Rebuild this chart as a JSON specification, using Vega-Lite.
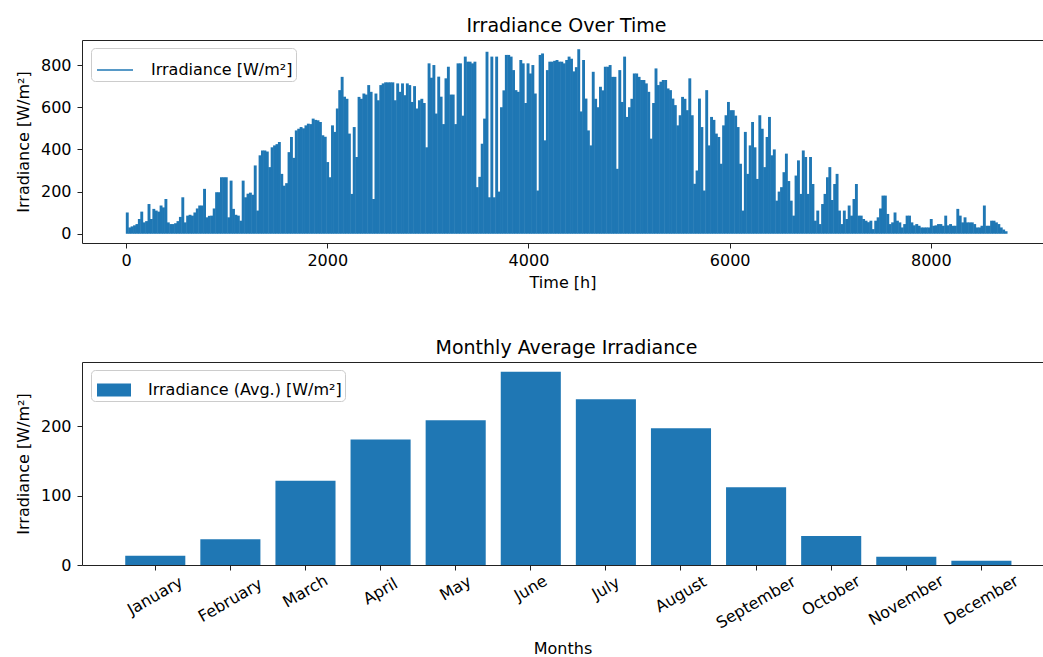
{
  "$schema": "https://vega.github.io/schema/vega-lite/v6.json",
  "padding": {"top": 17, "left": 14, "right": 0, "bottom": 0},
  "background": "white",
  "spacing": 49,
  "config": {
    "font": "DejaVu Sans",
    "view": {"stroke": null},
    "axis": {"domainColor": "#222", "domainWidth": 1, "tickColor": "#222", "tickSize": 5, "tickWidth": 1, "labelFontSize": 16, "labelColor": "#000", "titleFontSize": 16, "titleFontWeight": "normal", "titleColor": "#000", "grid": false, "labelFont": "DejaVu Sans", "titleFont": "DejaVu Sans"},
    "title": {"fontSize": 19, "fontWeight": "normal", "color": "#000", "font": "DejaVu Sans", "baseline": "alphabetic", "offset": 4, "frame": "group", "dx": 4},
    "legend": {"labelFontSize": 16, "labelFont": "DejaVu Sans", "labelColor": "#000", "strokeColor": "#cccccc", "fillColor": "#ffffff", "cornerRadius": 4, "padding": 3, "labelLimit": 400, "labelOffset": 17}
  },
  "datasets": {
    "hourly": [
      {"h":12,"v":101},{"h":36,"v":30},{"h":60,"v":35},{"h":84,"v":40},{"h":108,"v":46},{"h":132,"v":70},{"h":156,"v":105},{"h":180,"v":54},{"h":204,"v":60},{"h":228,"v":141},
      {"h":252,"v":70},{"h":276,"v":118},{"h":300,"v":110},{"h":324,"v":105},{"h":348,"v":134},{"h":372,"v":125},{"h":396,"v":165},{"h":420,"v":54},{"h":444,"v":46},{"h":468,"v":46},
      {"h":492,"v":50},{"h":516,"v":60},{"h":540,"v":80},{"h":564,"v":173},{"h":588,"v":54},{"h":612,"v":86},{"h":636,"v":90},{"h":660,"v":86},{"h":684,"v":101},{"h":708,"v":120},
      {"h":732,"v":134},{"h":756,"v":134},{"h":780,"v":213},{"h":804,"v":78},{"h":828,"v":85},{"h":852,"v":86},{"h":876,"v":120},{"h":900,"v":197},{"h":924,"v":197},{"h":948,"v":268},
      {"h":972,"v":268},{"h":996,"v":268},{"h":1020,"v":78},{"h":1044,"v":252},{"h":1068,"v":118},{"h":1092,"v":90},{"h":1116,"v":86},{"h":1140,"v":62},{"h":1164,"v":252},{"h":1188,"v":173},
      {"h":1212,"v":190},{"h":1236,"v":195},{"h":1260,"v":185},{"h":1284,"v":324},{"h":1308,"v":110},{"h":1332,"v":372},{"h":1356,"v":395},{"h":1380,"v":395},{"h":1404,"v":390},{"h":1428,"v":316},
      {"h":1452,"v":410},{"h":1476,"v":419},{"h":1500,"v":425},{"h":1524,"v":435},{"h":1548,"v":284},{"h":1572,"v":228},{"h":1596,"v":240},{"h":1620,"v":387},{"h":1644,"v":459},{"h":1668,"v":360},
      {"h":1692,"v":490},{"h":1716,"v":498},{"h":1740,"v":506},{"h":1764,"v":500},{"h":1788,"v":514},{"h":1812,"v":522},{"h":1836,"v":520},{"h":1860,"v":546},{"h":1884,"v":540},{"h":1908,"v":538},
      {"h":1932,"v":530},{"h":1956,"v":467},{"h":1980,"v":460},{"h":2004,"v":340},{"h":2028,"v":268},{"h":2052,"v":514},{"h":2076,"v":483},{"h":2100,"v":594},{"h":2124,"v":681},{"h":2148,"v":744},
      {"h":2172,"v":650},{"h":2196,"v":640},{"h":2220,"v":475},{"h":2244,"v":189},{"h":2268,"v":506},{"h":2292,"v":364},{"h":2316,"v":649},{"h":2340,"v":640},{"h":2364,"v":665},{"h":2388,"v":660},
      {"h":2412,"v":705},{"h":2436,"v":673},{"h":2460,"v":165},{"h":2484,"v":665},{"h":2508,"v":633},{"h":2532,"v":705},{"h":2556,"v":713},{"h":2580,"v":718},{"h":2604,"v":718},{"h":2628,"v":718},
      {"h":2652,"v":718},{"h":2676,"v":633},{"h":2700,"v":713},{"h":2724,"v":673},{"h":2748,"v":713},{"h":2772,"v":657},{"h":2796,"v":713},{"h":2820,"v":705},{"h":2844,"v":625},{"h":2868,"v":700},
      {"h":2892,"v":594},{"h":2916,"v":633},{"h":2940,"v":640},{"h":2964,"v":620},{"h":2988,"v":410},{"h":3012,"v":808},{"h":3036,"v":740},{"h":3060,"v":800},{"h":3084,"v":570},{"h":3108,"v":745},
      {"h":3132,"v":650},{"h":3156,"v":520},{"h":3180,"v":737},{"h":3204,"v":792},{"h":3228,"v":660},{"h":3252,"v":660},{"h":3276,"v":520},{"h":3300,"v":808},{"h":3324,"v":808},{"h":3348,"v":560},
      {"h":3372,"v":840},{"h":3396,"v":816},{"h":3420,"v":816},{"h":3444,"v":808},{"h":3468,"v":816},{"h":3492,"v":221},{"h":3516,"v":270},{"h":3540,"v":427},{"h":3564,"v":546},{"h":3588,"v":863},
      {"h":3612,"v":173},{"h":3636,"v":840},{"h":3660,"v":173},{"h":3684,"v":840},{"h":3708,"v":200},{"h":3732,"v":600},{"h":3756,"v":680},{"h":3780,"v":848},{"h":3804,"v":848},{"h":3828,"v":840},
      {"h":3852,"v":776},{"h":3876,"v":681},{"h":3900,"v":673},{"h":3924,"v":824},{"h":3948,"v":808},{"h":3972,"v":620},{"h":3996,"v":808},{"h":4020,"v":760},{"h":4044,"v":800},{"h":4068,"v":665},
      {"h":4092,"v":205},{"h":4116,"v":848},{"h":4140,"v":855},{"h":4164,"v":443},{"h":4188,"v":776},{"h":4212,"v":816},{"h":4236,"v":816},{"h":4260,"v":820},{"h":4284,"v":824},{"h":4308,"v":816},
      {"h":4332,"v":816},{"h":4356,"v":808},{"h":4380,"v":824},{"h":4404,"v":840},{"h":4428,"v":830},{"h":4452,"v":770},{"h":4476,"v":790},{"h":4500,"v":875},{"h":4524,"v":580},{"h":4548,"v":824},
      {"h":4572,"v":641},{"h":4596,"v":490},{"h":4620,"v":419},{"h":4644,"v":768},{"h":4668,"v":640},{"h":4692,"v":600},{"h":4716,"v":697},{"h":4740,"v":680},{"h":4764,"v":792},{"h":4788,"v":792},
      {"h":4812,"v":800},{"h":4836,"v":744},{"h":4860,"v":744},{"h":4884,"v":308},{"h":4908,"v":776},{"h":4932,"v":625},{"h":4956,"v":840},{"h":4980,"v":554},{"h":5004,"v":600},{"h":5028,"v":640},
      {"h":5052,"v":760},{"h":5076,"v":760},{"h":5100,"v":744},{"h":5124,"v":729},{"h":5148,"v":729},{"h":5172,"v":713},{"h":5196,"v":673},{"h":5220,"v":451},{"h":5244,"v":620},{"h":5268,"v":784},
      {"h":5292,"v":705},{"h":5316,"v":721},{"h":5340,"v":729},{"h":5364,"v":729},{"h":5388,"v":689},{"h":5412,"v":681},{"h":5436,"v":641},{"h":5460,"v":610},{"h":5484,"v":514},{"h":5508,"v":562},
      {"h":5532,"v":649},{"h":5556,"v":640},{"h":5580,"v":586},{"h":5604,"v":737},{"h":5628,"v":562},{"h":5652,"v":237},{"h":5676,"v":300},{"h":5700,"v":641},{"h":5724,"v":506},{"h":5748,"v":205},
      {"h":5772,"v":681},{"h":5796,"v":419},{"h":5820,"v":554},{"h":5844,"v":540},{"h":5868,"v":475},{"h":5892,"v":459},{"h":5916,"v":332},{"h":5940,"v":514},{"h":5964,"v":562},{"h":5988,"v":625},
      {"h":6012,"v":586},{"h":6036,"v":586},{"h":6060,"v":560},{"h":6084,"v":506},{"h":6108,"v":332},{"h":6132,"v":110},{"h":6156,"v":483},{"h":6180,"v":284},{"h":6204,"v":419},{"h":6228,"v":530},
      {"h":6252,"v":410},{"h":6276,"v":260},{"h":6300,"v":562},{"h":6324,"v":498},{"h":6348,"v":316},{"h":6372,"v":459},{"h":6396,"v":554},{"h":6420,"v":372},{"h":6444,"v":400},{"h":6468,"v":157},
      {"h":6492,"v":200},{"h":6516,"v":221},{"h":6540,"v":292},{"h":6564,"v":380},{"h":6588,"v":250},{"h":6612,"v":157},{"h":6636,"v":86},{"h":6660,"v":276},{"h":6684,"v":348},{"h":6708,"v":189},
      {"h":6732,"v":395},{"h":6756,"v":364},{"h":6780,"v":189},{"h":6804,"v":364},{"h":6828,"v":236},{"h":6852,"v":62},{"h":6876,"v":110},{"h":6900,"v":46},{"h":6924,"v":141},{"h":6948,"v":189},
      {"h":6972,"v":268},{"h":6996,"v":316},{"h":7020,"v":160},{"h":7044,"v":236},{"h":7068,"v":284},{"h":7092,"v":110},{"h":7116,"v":46},{"h":7140,"v":110},{"h":7164,"v":70},{"h":7188,"v":134},
      {"h":7212,"v":86},{"h":7236,"v":165},{"h":7260,"v":236},{"h":7284,"v":86},{"h":7308,"v":86},{"h":7332,"v":70},{"h":7356,"v":62},{"h":7380,"v":55},{"h":7404,"v":62},{"h":7428,"v":22},
      {"h":7452,"v":62},{"h":7476,"v":78},{"h":7500,"v":120},{"h":7524,"v":181},{"h":7548,"v":181},{"h":7572,"v":94},{"h":7596,"v":46},{"h":7620,"v":54},{"h":7644,"v":101},{"h":7668,"v":62},
      {"h":7692,"v":54},{"h":7716,"v":30},{"h":7740,"v":46},{"h":7764,"v":86},{"h":7788,"v":86},{"h":7812,"v":54},{"h":7836,"v":40},{"h":7860,"v":46},{"h":7884,"v":38},{"h":7908,"v":30},
      {"h":7932,"v":30},{"h":7956,"v":30},{"h":7980,"v":30},{"h":8004,"v":70},{"h":8028,"v":38},{"h":8052,"v":40},{"h":8076,"v":46},{"h":8100,"v":46},{"h":8124,"v":38},{"h":8148,"v":86},
      {"h":8172,"v":40},{"h":8196,"v":46},{"h":8220,"v":38},{"h":8244,"v":38},{"h":8268,"v":118},{"h":8292,"v":86},{"h":8316,"v":54},{"h":8340,"v":78},{"h":8364,"v":54},{"h":8388,"v":54},
      {"h":8412,"v":54},{"h":8436,"v":46},{"h":8460,"v":30},{"h":8484,"v":30},{"h":8508,"v":38},{"h":8532,"v":134},{"h":8556,"v":38},{"h":8580,"v":38},{"h":8604,"v":62},{"h":8628,"v":62},
      {"h":8652,"v":54},{"h":8676,"v":46},{"h":8700,"v":30},{"h":8724,"v":20},{"h":8748,"v":12}
    ],
    "monthly": [
      {"month":"January","avg":13.4},{"month":"February","avg":37},{"month":"March","avg":121.3},{"month":"April","avg":180.8},
      {"month":"May","avg":208.6},{"month":"June","avg":278.6},{"month":"July","avg":238.8},{"month":"August","avg":197},
      {"month":"September","avg":112.2},{"month":"October","avg":41.7},{"month":"November","avg":12},{"month":"December","avg":6.2}
    ]
  },
  "vconcat": [
    {
      "width": 961,
      "height": 203,
      "title": {"text": "Irradiance Over Time"},
      "layer": [
        {
          "data": {"name": "hourly"},
          "mark": {"type": "rule", "strokeWidth": 2.9},
          "encoding": {
            "x": {"field": "h", "type": "quantitative", "scale": {"domain": [-438, 9115], "nice": false, "zero": false},
                  "axis": {"orient": "bottom", "values": [0, 2000, 4000, 6000, 8000], "format": "d", "labelPadding": 4, "title": "Time [h]", "titleY": 44, "titleBaseline": "alphabetic"}},
            "y": {"field": "v", "type": "quantitative", "scale": {"domain": [-43.75, 918.75], "nice": false, "zero": false},
                  "axis": {"values": [0, 200, 400, 600, 800], "format": "d", "labelPadding": 6, "title": "Irradiance [W/m²]", "titleX": -54, "titleBaseline": "alphabetic"}},
            "y2": {"datum": 0},
            "color": {"datum": "Irradiance [W/m²]", "type": "nominal", "scale": {"range": ["#1f77b4"]},
                      "legend": {"title": null, "orient": "none", "legendX": 9, "legendY": 8, "symbolType": "stroke", "symbolSize": 1296, "symbolStrokeWidth": 1.5, "symbolOffset": 2}}
          }
        },
        {
          "data": {"values": [{}]},
          "mark": {"type": "rule", "opacity": 0},
          "encoding": {
            "x": {"datum": 0, "type": "quantitative", "scale": {"domain": [-438, 9115], "nice": false, "zero": false},
                  "axis": {"orient": "top", "labels": false, "ticks": false, "title": null, "domain": true}}
          }
        }
      ],
      "resolve": {"axis": {"x": "independent"}}
    },
    {
      "width": 961,
      "height": 203,
      "title": {"text": "Monthly Average Irradiance"},
      "layer": [
        {
          "data": {"name": "monthly"},
          "mark": {"type": "bar", "color": "#1f77b4"},
          "encoding": {
            "x": {"field": "month", "type": "nominal", "sort": null,
                  "scale": {"domain": ["January","February","March","April","May","June","July","August","September","October","November","December"], "paddingInner": 0.2, "paddingOuter": 0.498, "align": 0.578},
                  "axis": {"orient": "bottom", "labelAngle": -30, "labelAlign": "center", "labelBaseline": "middle",
                           "labelPadding": {"condition": [
                             {"test": "length(datum.label) >= 9", "value": 32},
                             {"test": "length(datum.label) == 8", "value": 30},
                             {"test": "length(datum.label) == 7", "value": 25.5},
                             {"test": "length(datum.label) == 6", "value": 24},
                             {"test": "length(datum.label) == 5", "value": 21}
                           ], "value": 18},
                           "title": "Months", "titleY": 88, "titleBaseline": "alphabetic"}},
            "y": {"field": "avg", "type": "quantitative", "scale": {"domain": [0, 292.5], "nice": false},
                  "axis": {"values": [0, 100, 200], "format": "d", "labelPadding": 6, "title": "Irradiance [W/m²]", "titleX": -54, "titleBaseline": "alphabetic"}},
            "color": {"datum": "Irradiance (Avg.) [W/m²]", "type": "nominal", "scale": {"range": ["#1f77b4"]},
                      "legend": {"title": null, "orient": "none", "legendX": 9, "legendY": 8, "symbolType": "M-1,-0.38H1V0.38H-1Z", "symbolSize": 1156, "symbolStrokeWidth": 0, "symbolOffset": 3}}
          }
        },
        {
          "data": {"values": [{}]},
          "mark": {"type": "rule", "opacity": 0},
          "encoding": {
            "x": {"datum": "January", "type": "nominal",
                  "scale": {"domain": ["January","February","March","April","May","June","July","August","September","October","November","December"], "paddingInner": 0.2, "paddingOuter": 0.498, "align": 0.578},
                  "axis": {"orient": "top", "labels": false, "ticks": false, "title": null, "domain": true}}
          }
        }
      ],
      "resolve": {"axis": {"x": "independent"}, "scale": {"color": "independent"}}
    }
  ],
  "resolve": {"scale": {"color": "independent"}, "legend": {"color": "independent"}}
}
